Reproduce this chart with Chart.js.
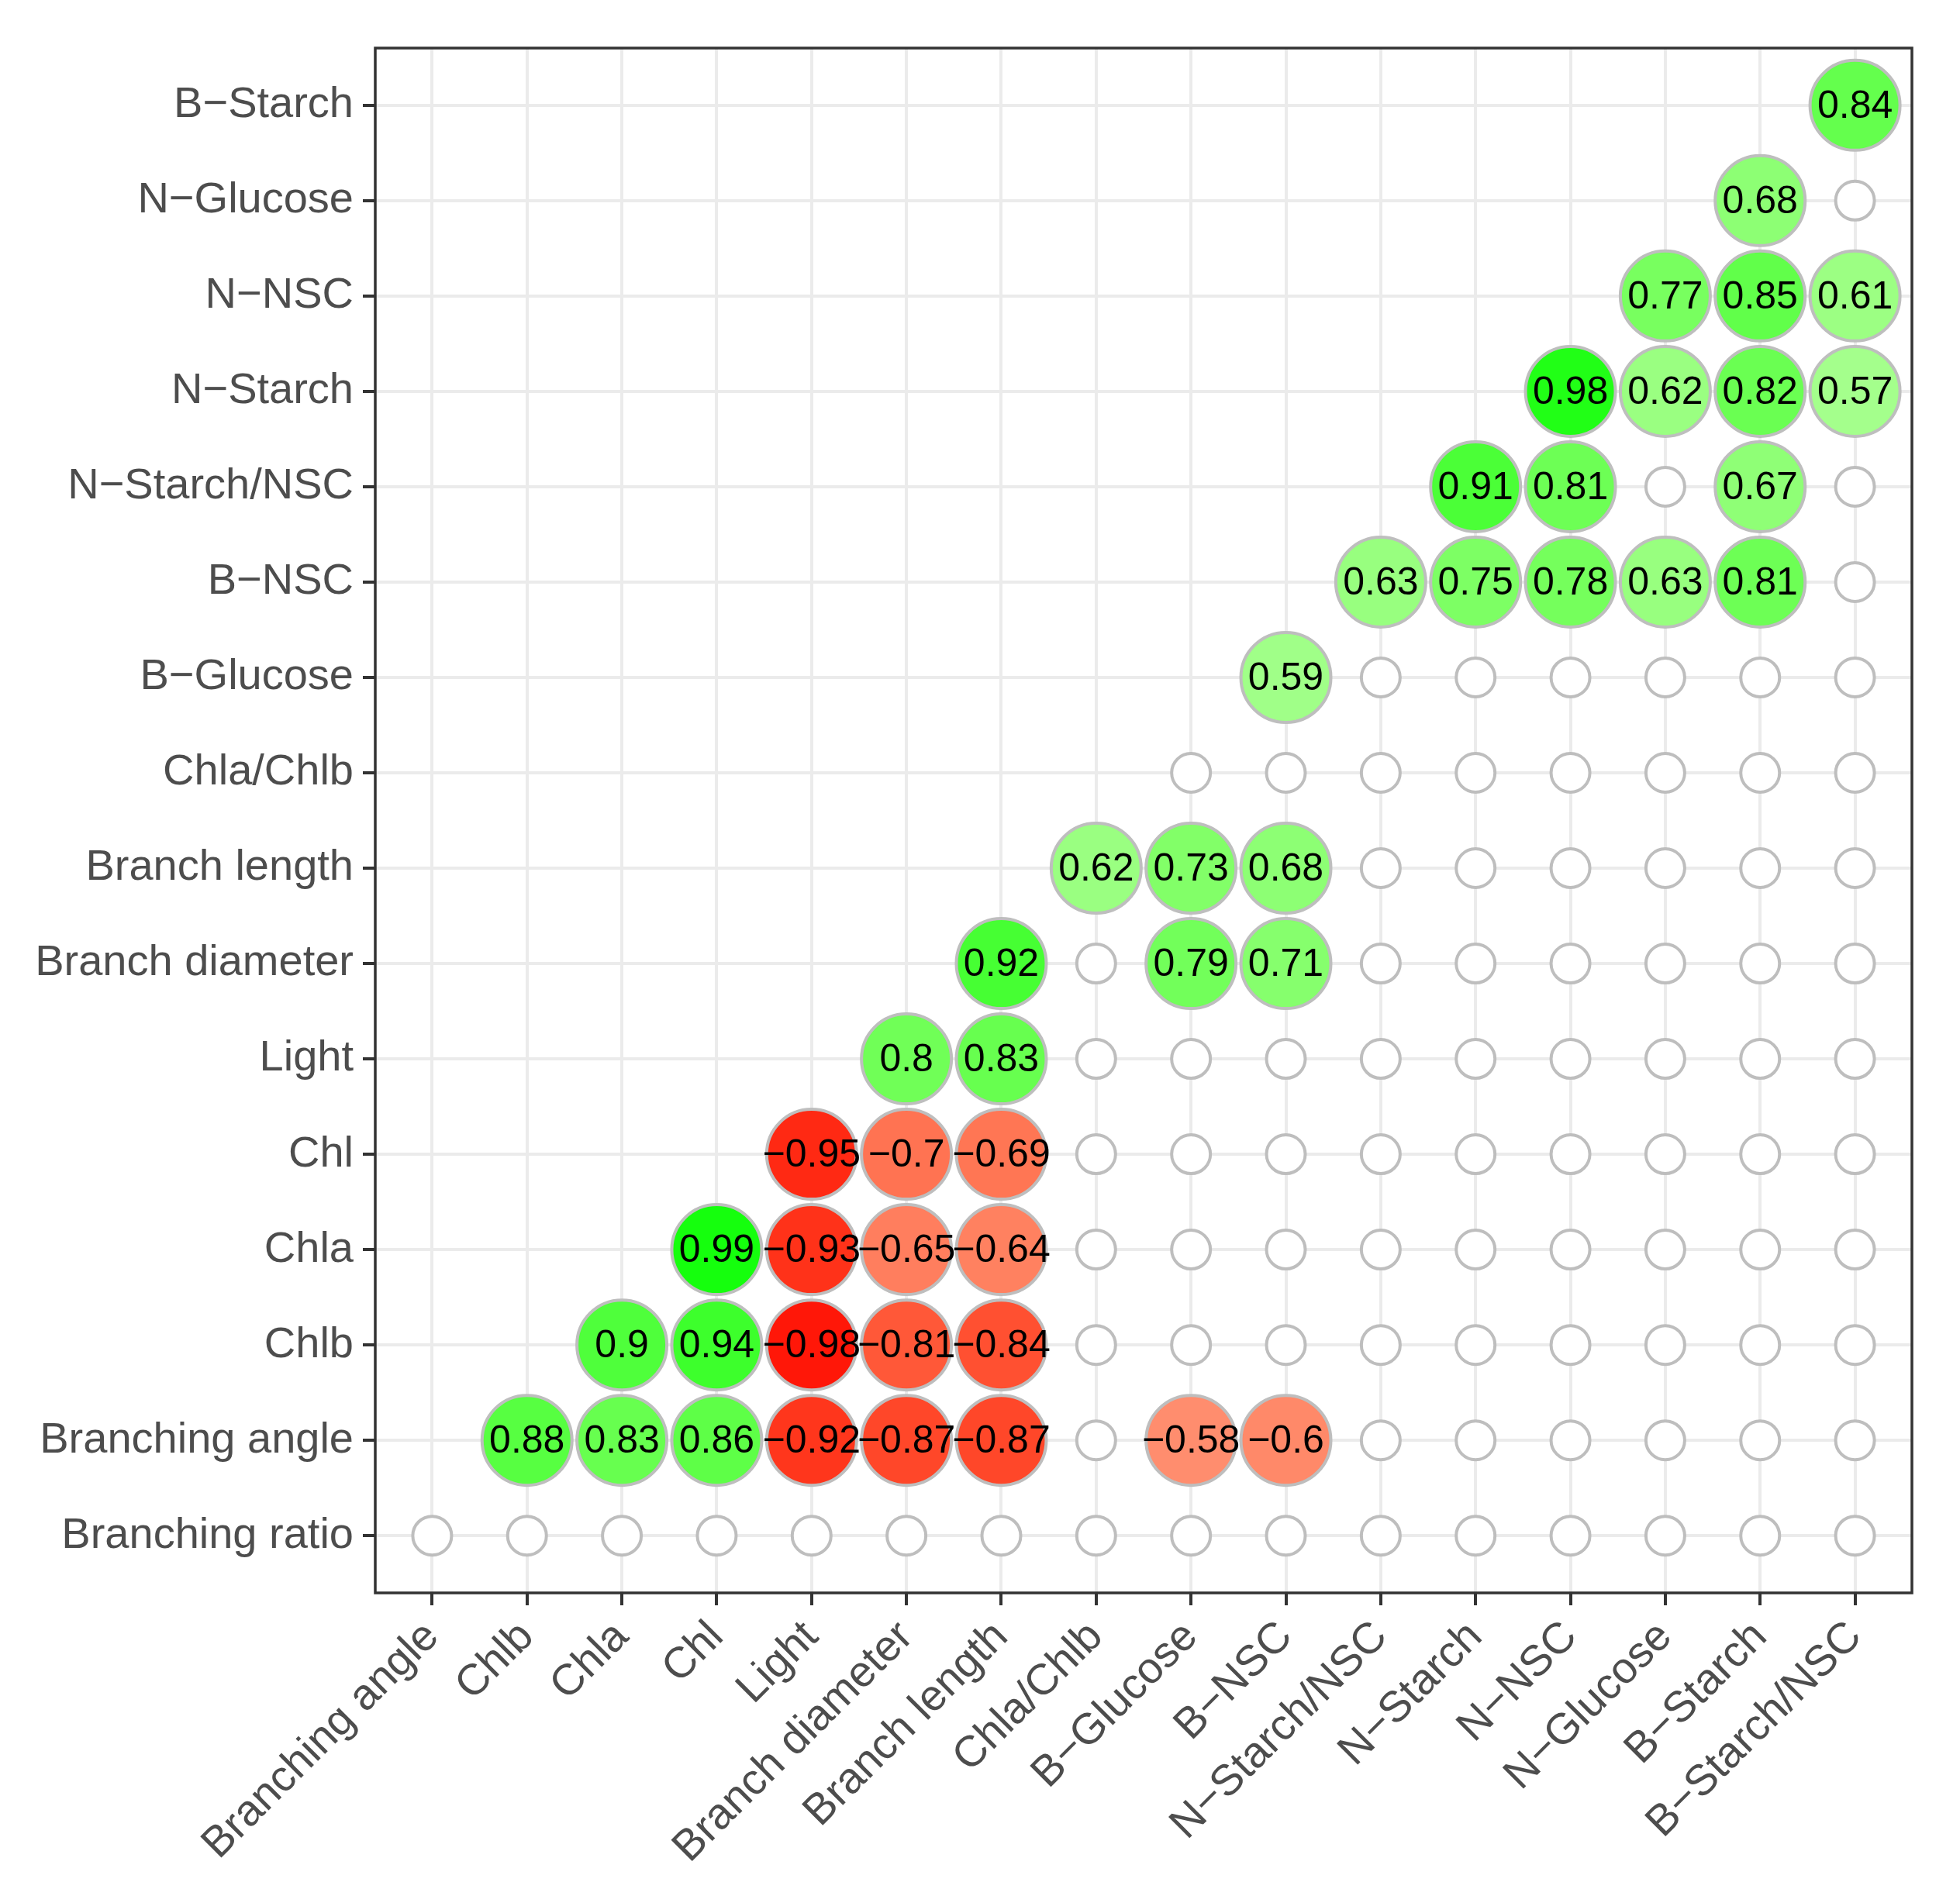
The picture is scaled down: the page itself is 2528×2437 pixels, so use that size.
<!DOCTYPE html>
<html>
<head>
<meta charset="utf-8">
<script src="https://cdn.jsdelivr.net/npm/chart.js@4.4.0/dist/chart.umd.min.js"></script>
<style>
  body { margin: 0; background: #fff; }
  canvas { display: block; }
</style>
</head>
<body>
<canvas id="corr" width="2528" height="2437"></canvas>
<script>
"use strict";

// categories (x left to right, y bottom to top)
const xLabels = ['Branching angle', 'Chlb', 'Chla', 'Chl', 'Light', 'Branch diameter', 'Branch length',
  'Chla/Chlb', 'B\u2212Glucose', 'B\u2212NSC', 'N\u2212Starch/NSC', 'N\u2212Starch', 'N\u2212NSC',
  'N\u2212Glucose', 'B\u2212Starch', 'B\u2212Starch/NSC'];
const yLabels = ['Branching ratio', 'Branching angle', 'Chlb', 'Chla', 'Chl', 'Light', 'Branch diameter',
  'Branch length', 'Chla/Chlb', 'B\u2212Glucose', 'B\u2212NSC', 'N\u2212Starch/NSC', 'N\u2212Starch',
  'N\u2212NSC', 'N\u2212Glucose', 'B\u2212Starch'];

// r for each row, starting at the diagonal column (null = not significant)
const branchingRatio = [null, null, null, null, null, null, null, null, null, null, null, null, null, null, null, null];
const branchingAngle = [0.88, 0.83, 0.86, -0.92, -0.87, -0.87, null, -0.58, -0.6, null, null, null, null, null, null];
const chlb = [0.9, 0.94, -0.98, -0.81, -0.84, null, null, null, null, null, null, null, null, null];
const chla = [0.99, -0.93, -0.65, -0.64, null, null, null, null, null, null, null, null, null];
const chl = [-0.95, -0.7, -0.69, null, null, null, null, null, null, null, null, null];
const light = [0.8, 0.83, null, null, null, null, null, null, null, null, null];
const branchDiameter = [0.92, null, 0.79, 0.71, null, null, null, null, null, null];
const branchLength = [0.62, 0.73, 0.68, null, null, null, null, null, null];
const chlaChlb = [null, null, null, null, null, null, null, null];
const bGlucose = [0.59, null, null, null, null, null, null];
const bNSC = [0.63, 0.75, 0.78, 0.63, 0.81, null];
const nStarchNSC = [0.91, 0.81, null, 0.67, null];
const nStarch = [0.98, 0.62, 0.82, 0.57];
const nNSC = [0.77, 0.85, 0.61];
const nGlucose = [0.68, null];
const bStarch = [0.84];

const rows = [branchingRatio, branchingAngle, chlb, chla, chl, light, branchDiameter, branchLength,
  chlaChlb, bGlucose, bNSC, nStarchNSC, nStarch, nNSC, nGlucose, bStarch];

// colour: white -> green / white -> red, interpolated in Lab like ggplot
function toLin(c) { c /= 255; return c <= 0.04045 ? c / 12.92 : Math.pow((c + 0.055) / 1.055, 2.4); }
function toSrgb(c) {
  c = c <= 0.0031308 ? 12.92 * c : 1.055 * Math.pow(c, 1 / 2.4) - 0.055;
  return Math.round(Math.min(1, Math.max(0, c)) * 255);
}
function rgbToLab(rgb) {
  const [r, g, b] = rgb.map(toLin);
  const X = (0.4124 * r + 0.3576 * g + 0.1805 * b) / 0.95047;
  const Y = (0.2126 * r + 0.7152 * g + 0.0722 * b);
  const Z = (0.0193 * r + 0.1192 * g + 0.9505 * b) / 1.08883;
  const f = t => t > 0.008856 ? Math.cbrt(t) : 7.787 * t + 16 / 116;
  return [116 * f(Y) - 16, 500 * (f(X) - f(Y)), 200 * (f(Y) - f(Z))];
}
function labToRgb(lab) {
  const fy = (lab[0] + 16) / 116, fx = fy + lab[1] / 500, fz = fy - lab[2] / 200;
  const inv = t => t > 0.206893 ? t * t * t : (t - 16 / 116) / 7.787;
  const X = inv(fx) * 0.95047, Y = inv(fy), Z = inv(fz) * 1.08883;
  const r = 3.2406 * X - 1.5372 * Y - 0.4986 * Z;
  const g = -0.9689 * X + 1.8758 * Y + 0.0415 * Z;
  const b = 0.0557 * X - 0.2040 * Y + 1.0570 * Z;
  return `rgb(${toSrgb(r)}, ${toSrgb(g)}, ${toSrgb(b)})`;
}
const labWhite = rgbToLab([255, 255, 255]);
const labGreen = rgbToLab([0, 255, 0]);
const labRed = rgbToLab([255, 0, 0]);
function fillFor(v) {
  if (v === null) return '#FFFFFF';
  const end = v >= 0 ? labGreen : labRed;
  const t = Math.abs(v);
  return labToRgb(labWhite.map((w, i) => w + (end[i] - w) * t));
}

const points = [];
rows.forEach((row, i) => {
  row.forEach((v, k) => {
    points.push({ x: i + k, y: i, r: v === null ? 25 : 58, v: v });
  });
});

const fontFamily = "'Liberation Sans', Arial, sans-serif";

// panel border + text labels
const panelBorder = {
  id: 'panelBorder',
  beforeDatasetsDraw(chart) {
    const { ctx, chartArea: a } = chart;
    ctx.save();
    ctx.strokeStyle = '#333333';
    ctx.lineWidth = 3.5;
    ctx.strokeRect(a.left, a.top, a.right - a.left, a.bottom - a.top);
    ctx.restore();
  }
};
const cellText = {
  id: 'cellText',
  afterDatasetsDraw(chart) {
    const { ctx } = chart;
    const meta = chart.getDatasetMeta(0);
    ctx.save();
    ctx.fillStyle = '#000000';
    ctx.font = `50px ${fontFamily}`;
    ctx.textAlign = 'center';
    ctx.textBaseline = 'middle';
    meta.data.forEach((el, idx) => {
      const v = points[idx].v;
      if (v === null) return;
      ctx.fillText(String(v).replace('-', '\u2212'), el.x, el.y + 2);
    });
    ctx.restore();
  }
};

const intTicks = (n) => (scale) => {
  scale.ticks = Array.from({ length: n }, (_, i) => ({ value: i }));
};

new Chart(document.getElementById('corr'), {
  type: 'bubble',
  data: {
    datasets: [{
      data: points,
      backgroundColor: points.map(p => fillFor(p.v)),
      borderColor: '#BEBEBE',
      borderWidth: 4,
      clip: false
    }]
  },
  options: {
    responsive: false,
    devicePixelRatio: 1,
    animation: false,
    events: [],
    layout: { padding: { top: 57, right: 44, left: 0, bottom: 0 } },
    plugins: { legend: { display: false }, tooltip: { enabled: false } },
    scales: {
      x: {
        type: 'linear',
        min: -0.6,
        max: 15.6,
        afterBuildTicks: intTicks(xLabels.length),
        afterFit(scale) { scale.height = 382; },
        grid: { color: '#EBEBEB', lineWidth: 4, tickColor: '#333333', tickWidth: 4, tickLength: 16 },
        border: { display: false },
        ticks: {
          autoSkip: false,
          maxRotation: 45,
          minRotation: 45,
          padding: 8,
          color: '#4D4D4D',
          font: { size: 56, family: fontFamily },
          callback: (v) => xLabels[v]
        }
      },
      y: {
        type: 'linear',
        min: -0.6,
        max: 15.6,
        afterBuildTicks: intTicks(yLabels.length),
        afterFit(scale) { scale.width = 484; },
        grid: { color: '#EBEBEB', lineWidth: 4, tickColor: '#333333', tickWidth: 4, tickLength: 16 },
        border: { display: false },
        ticks: {
          autoSkip: false,
          padding: 12,
          color: '#4D4D4D',
          font: { size: 56, family: fontFamily },
          callback: (v) => yLabels[v]
        }
      }
    }
  },
  plugins: [panelBorder, cellText]
});
</script>
</body>
</html>
